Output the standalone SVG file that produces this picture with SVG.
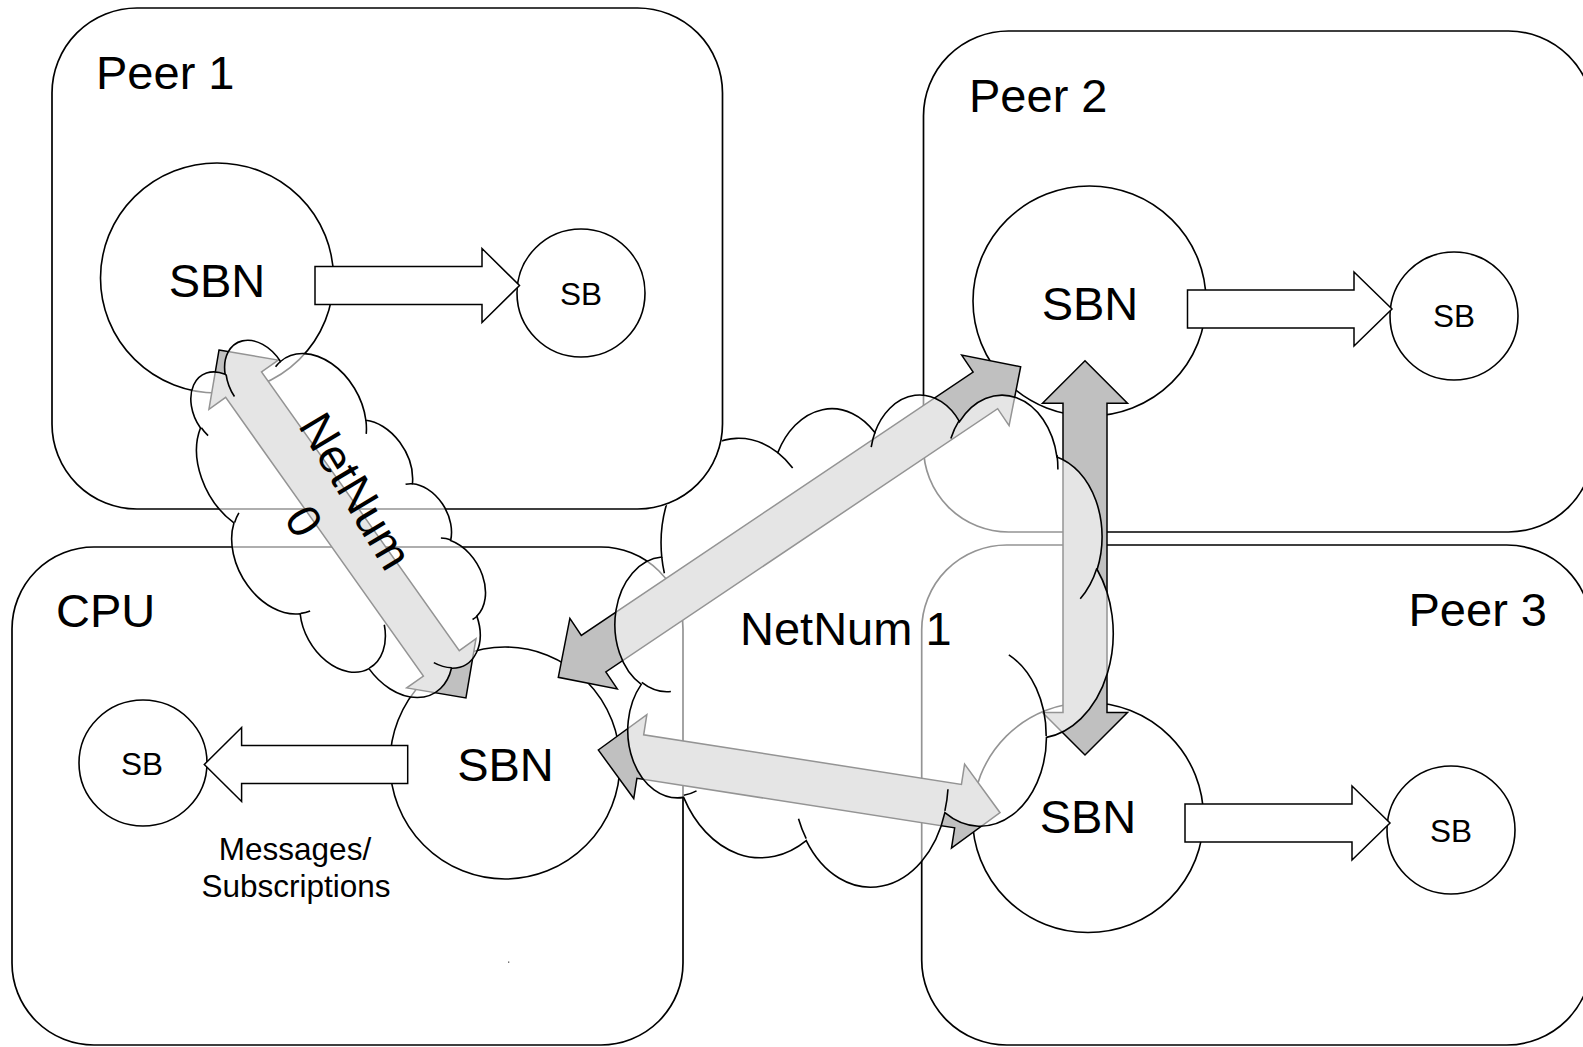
<svg xmlns="http://www.w3.org/2000/svg" width="1583" height="1047" viewBox="0 0 1583 1047">
<defs>
<style>
.box{fill:#fff;stroke:#000;stroke-width:1.7}
.circ{fill:#fff;stroke:#000;stroke-width:1.6}
.warrow{fill:#fff;stroke:#000;stroke-width:1.5}
.darrow{fill:#c0c0c0;stroke:#000;stroke-width:1.5;stroke-linejoin:miter}
.cloud{fill:#fff;fill-opacity:0.58;stroke:#000;stroke-width:1.6}
.inner{fill:none;stroke:#000;stroke-width:1.6}
.lbl{font-family:"Liberation Sans",Arial,Helvetica,sans-serif;fill:#000}
.big{font-size:47px}
.sbn{font-size:47px;text-anchor:middle}
.sb{font-size:31.5px;text-anchor:middle}
.msg{font-size:31.5px;text-anchor:middle}
</style>
<path id="cloudOutline" vector-effect="non-scaling-stroke" d="M3900 14370 A6753 9190 0 0 1 14005 5202 A5333 7267 0 0 1 22457 3433 A4365 5945 0 0 1 29835 2483 A4857 6595 0 0 1 38319 5578 A5333 7273 0 0 1 41820 15462 A6775 9220 0 0 1 37406 30205 A5785 7867 0 0 1 28557 36815 A6752 9215 0 0 1 16482 39268 A7720 10543 0 0 1 5805 35471 A4360 5918 0 0 1 2114 25549 A4345 5945 0 0 1 3900 14370 Z"/>
<path id="cloudInner" vector-effect="non-scaling-stroke" d="M4693 26177 A4345 5945 0 0 1 2160 25380 M6928 34899 A4360 5918 0 0 1 5820 35281 M16478 39090 A6752 9215 0 0 1 15809 37348 M28827 34751 A6752 9215 0 0 1 28560 36660 M34129 22954 A5785 7867 0 0 1 37380 30090 M41798 15354 A5333 7273 0 0 1 40350 18030 M38324 5426 A4857 6595 0 0 1 38400 6690 M29078 3952 A4857 6595 0 0 1 29820 2341 M22141 4720 A4365 5945 0 0 1 22500 3330 M14000 5192 A6753 9190 0 0 1 15301 6542 M4127 15789 A6753 9190 0 0 1 3900 14370"/>
<clipPath id="notPeer1">
<path clip-rule="evenodd" d="M0 0H1583V1047H0Z M137 6.8 H637.5 A86.2 86.2 0 0 1 723.7 93 V424 A86.2 86.2 0 0 1 637.5 510.2 H137 A86.2 86.2 0 0 1 50.8 424 V93 A86.2 86.2 0 0 1 137 6.8 Z"/>
</clipPath>
</defs>
<rect width="1583" height="1047" fill="#fff"/>

<g id="cpu">
<rect class="box" x="12" y="547" width="671" height="498" rx="82"/>
<text class="lbl big" x="56" y="627">CPU</text>
<ellipse class="circ" cx="505" cy="763" rx="115" ry="116"/>
<text class="lbl sbn" x="505.5" y="780.7">SBN</text>
<ellipse class="circ" cx="143" cy="763" rx="64" ry="63"/>
<text class="lbl sb" x="142" y="775">SB</text>
<text class="lbl msg" x="295" y="860">Messages/</text>
<text class="lbl msg" x="296" y="896.7">Subscriptions</text>
<rect x="508" y="961.5" width="1.3" height="1.3" fill="#555"/>
</g>

<g id="peer1">
<rect class="box" x="52" y="8" width="670.5" height="501" rx="85"/>
<text class="lbl big" x="96" y="89">Peer 1</text>
<ellipse class="circ" cx="217" cy="278" rx="116.5" ry="115"/>
<text class="lbl sbn" x="217" y="297">SBN</text>
<circle class="circ" cx="581" cy="293" r="64"/>
<text class="lbl sb" x="581" y="304.8">SB</text>
</g>

<g id="peer2">
<rect class="box" x="923.5" y="31" width="670" height="501" rx="85"/>
<text class="lbl big" x="969" y="112">Peer 2</text>
<ellipse class="circ" cx="1089.5" cy="301" rx="116.5" ry="115"/>
<text class="lbl sbn" x="1090" y="319.6">SBN</text>
<circle class="circ" cx="1454" cy="316" r="64"/>
<text class="lbl sb" x="1454" y="326.5">SB</text>
</g>

<g id="peer3">
<rect class="box" x="921.7" y="545" width="670" height="500" rx="85"/>
<text class="lbl big" x="1547" y="626" text-anchor="end">Peer 3</text>
<ellipse class="circ" cx="1088" cy="817.5" rx="115.5" ry="115"/>
<text class="lbl sbn" x="1088" y="833.3">SBN</text>
<circle class="circ" cx="1451" cy="830" r="64"/>
<text class="lbl sb" x="1451" y="841.7">SB</text>
</g>

<g id="connectors">
<path class="warrow" d="M315 266.5 H482 V248.5 L519.5 285.5 L482 322.5 V304.5 H315 Z"/>
<path class="warrow" d="M1187.5 290 H1354 V272 L1392 309 L1354 346 V328 H1187.5 Z"/>
<path class="warrow" d="M1185 804 H1352 V786 L1390 823 L1352 860 V842 H1185 Z"/>
<path class="warrow" d="M407.7 745.5 H241.6 V727.5 L204.3 764.5 L241.6 801.5 V783.5 H407.7 Z"/>
<path class="darrow" transform="translate(558.3 677.3) rotate(-33.89)" d="M0 0 L42.5 -42.5 L42.5 -22 L514.5 -22 L514.5 -42.5 L557 0 L514.5 42.5 L514.5 22 L42.5 22 L42.5 42.5 Z"/>
<path class="darrow" transform="translate(598.3 750) rotate(8.87)" d="M0 0 L42.5 -42.5 L42.5 -22 L364.1 -22 L364.1 -42.5 L406.6 0 L364.1 42.5 L364.1 22 L42.5 22 L42.5 42.5 Z"/>
<path class="darrow" transform="translate(1085 360.7) rotate(90)" d="M0 0 L42.5 -42.5 L42.5 -22 L351.8 -22 L351.8 -42.5 L394.3 0 L351.8 42.5 L351.8 22 L42.5 22 L42.5 42.5 Z"/>
<path class="darrow" transform="translate(219 350) rotate(54.64)" d="M0 0 L42.5 -42.5 L42.5 -22 L384.2 -22 L384.2 -42.5 L426.7 0 L384.2 42.5 L384.2 22 L42.5 22 L42.5 42.5 Z"/>
</g>

<g id="netnum1">
<g clip-path="url(#notPeer1)">
<g transform="translate(617 393.4) scale(0.011481 0.011389)">
<use href="#cloudOutline" class="cloud"/>
<use href="#cloudInner" class="inner"/>
</g>
</g>
<text class="lbl" font-size="47" x="740" y="645">NetNum 1</text>
</g>

<g id="netnum0">
<g transform="translate(332 521) rotate(60) scale(0.009259 0.004861) translate(-21600 -21600)">
<use href="#cloudOutline" class="cloud"/>
<use href="#cloudInner" class="inner"/>
</g>
<text class="lbl" font-size="47" text-anchor="middle" transform="translate(356 491) rotate(59)"><tspan x="0" y="16.5">NetNum</tspan><tspan x="-1" y="76.5">0</tspan></text>
</g>
</svg>
